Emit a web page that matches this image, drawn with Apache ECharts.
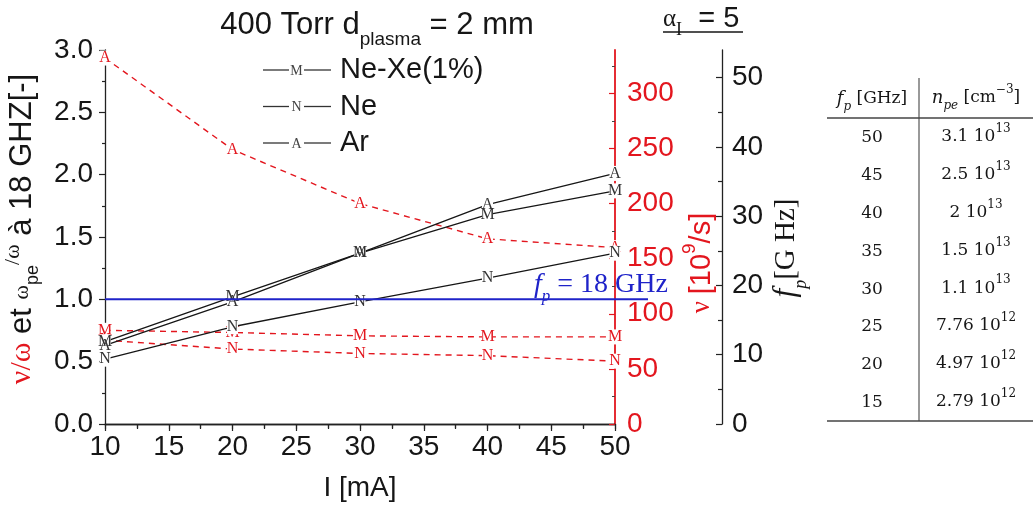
<!DOCTYPE html>
<html>
<head>
<meta charset="utf-8">
<script src="https://cdn.jsdelivr.net/npm/echarts@6/dist/echarts.min.js"></script>
<style>
html,body{margin:0;padding:0;background:#fff;}
#chart{width:1033px;height:509px;}
</style>
</head>
<body>
<div id="chart"></div>
<script>
// ---------- data ----------
const current = [10, 20, 30, 40, 50];                 // I [mA]
// omega_pe / omega at 18 GHz (left axis)
const neXeOmegaPe = [0.66, 1.02, 1.37, 1.68, 1.87];
const neOmegaPe   = [0.52, 0.78, 0.98, 1.17, 1.37];
const arOmegaPe   = [0.63, 0.98, 1.37, 1.76, 2.01];
// collision frequency nu [10^9/s] (red axis)
const neXeNu = [85, 83, 80, 79, 79];
const neNu   = [76, 68, 64, 62, 57];
const arNu   = [332, 249, 200, 168, 160];
// reference line omega_pe/omega = 1 (f_p = 18 GHz)
const refLineX = [10, 52.6];
const refLineY = 1.0;
// tick labels
const xTicks = [10, 15, 20, 25, 30, 35, 40, 45, 50];
const leftTicks = [0, 0.5, 1, 1.5, 2, 2.5, 3];
const nuTicks = [0, 50, 100, 150, 200, 250, 300];
const fpTicks = [0, 10, 20, 30, 40, 50];
// legend
const legendNames = ['Ne-Xe(1%)', 'Ne', 'Ar'];
const legendMarks = ['M', 'N', 'A'];
// table
const tableFp = [50, 45, 40, 35, 30, 25, 20, 15];
const tableNpeMant = ['3.1', '2.5', '2', '1.5', '1.1', '7.76', '4.97', '2.79'];
const tableNpeExp = [13, 13, 13, 13, 13, 12, 12, 12];

// ---------- styles ----------
const RED = '#e3161e';
const BLK = '#161616';
const BLUE = '#1f23c9';
const SANS = 'Liberation Sans, Arial, sans-serif';
const SERIF = 'Liberation Serif, Times New Roman, serif';
const TSERIF = 'DejaVu Serif, serif';

function pts(arr) { return current.map((x, i) => [x, arr[i]]); }

function mkSeries(name, data, letter, isRed) {
  return {
    name: name,
    type: 'line',
    xAxisIndex: 0,
    yAxisIndex: isRed ? 1 : 0,
    data: pts(data),
    symbol: 'rect',
    symbolSize: [11, 15],
    showSymbol: true,
    itemStyle: { color: '#fff', borderWidth: 0 },
    lineStyle: isRed ? { color: RED, width: 1.4, type: [6, 5] } : { color: BLK, width: 1.3 },
    label: {
      show: true, position: 'inside', formatter: letter,
      fontFamily: SERIF, fontSize: 16, color: isRed ? RED : '#333'
    },
    emphasis: { disabled: true },
    silent: true,
    z: isRed ? 2 : 3
  };
}

const chart = echarts.init(document.getElementById('chart'), null, { renderer: 'canvas' });

// graphic elements: titles, axis names, legend, table
const graphics = [];
function txt(x, y, text, rich, opts) {
  opts = opts || {};
  graphics.push({
    type: 'text', x: x, y: y, rotation: opts.rotation || 0, silent: true,
    style: {
      text: text, rich: rich,
      fontSize: opts.fontSize || 28, fontFamily: opts.fontFamily || SANS,
      fill: opts.fill || BLK,
      align: opts.align || 'center', verticalAlign: opts.verticalAlign || 'middle',
      textAlign: opts.align || 'center', textVerticalAlign: opts.verticalAlign || 'middle'
    }
  });
}
function line(x1, y1, x2, y2, color, w) {
  graphics.push({ type: 'line', silent: true, shape: { x1: x1, y1: y1, x2: x2, y2: y2 },
    style: { stroke: color || BLK, lineWidth: w || 1.2 } });
}

// Title
txt(377, 25, '{n|400 Torr d}{s|plasma}{n| = 2 mm}', {
  n: { fontSize: 31, fontFamily: SANS, fill: BLK, lineHeight: 48 },
  s: { fontSize: 19, fontFamily: SANS, fill: BLK, lineHeight: 20, verticalAlign: 'bottom' }
});
// alpha_I = 5
txt(663, 19, '{a|α}{s|I}{n|  = 5}', {
  a: { fontSize: 25, fontFamily: SERIF, fill: BLK, lineHeight: 40 },
  s: { fontSize: 18, fontFamily: SERIF, fill: BLK, lineHeight: 20, verticalAlign: 'bottom' },
  n: { fontSize: 29, fontFamily: SANS, fill: BLK, lineHeight: 40 }
}, { align: 'left' });
line(663, 32, 743, 32, BLK, 1.4);

// Left axis title (rotated)
txt(22, 229, '{r|ν/ω}{n| et }{w|ω}{s|pe}{u|/ω}{n| à 18 GHZ[-]}', {
  r: { fontSize: 30, fontFamily: SERIF, fill: RED, lineHeight: 40 },
  n: { fontSize: 31, fontFamily: SANS, fill: BLK, lineHeight: 40 },
  w: { fontSize: 22, fontFamily: SERIF, fill: BLK, lineHeight: 40 },
  s: { fontSize: 18, fontFamily: SANS, fill: BLK, lineHeight: 20, verticalAlign: 'bottom' },
  u: { fontSize: 22, fontFamily: SERIF, fill: BLK, lineHeight: 38, verticalAlign: 'top' }
}, { rotation: Math.PI / 2 });

// Red axis name
txt(702, 263, '{v|ν }{n|[10}{p|9}{n|/s]}', {
  v: { fontSize: 27, fontFamily: SERIF, fill: RED, lineHeight: 44 },
  n: { fontSize: 29, fontFamily: SANS, fill: RED, lineHeight: 44 },
  p: { fontSize: 19, fontFamily: SANS, fill: RED, lineHeight: 26, verticalAlign: 'top' }
}, { rotation: Math.PI / 2 });

// fp axis name
txt(786, 248, '{f|f}{p|p}{n|[G Hz]}', {
  f: { fontSize: 31, fontFamily: SERIF, fontStyle: 'italic', fill: BLK, lineHeight: 48 },
  p: { fontSize: 18, fontFamily: SERIF, fontStyle: 'italic', fill: BLK, lineHeight: 24, verticalAlign: 'bottom' },
  n: { fontSize: 29, fontFamily: SERIF, fill: BLK, lineHeight: 48 }
}, { rotation: Math.PI / 2 });

// f_p = 18 GHz label
txt(534, 285, '{f|f}{p|p}{n| = 18 GHz}', {
  f: { fontSize: 28, fontFamily: SERIF, fontStyle: 'italic', fill: BLUE, lineHeight: 40 },
  p: { fontSize: 17, fontFamily: SERIF, fontStyle: 'italic', fill: BLUE, lineHeight: 22, verticalAlign: 'bottom' },
  n: { fontSize: 28, fontFamily: SERIF, fill: BLUE, lineHeight: 40 }
}, { align: 'left' });

// Legend
legendNames.forEach((nm, i) => {
  const y = 70 + i * 36.5;
  line(263, y, 289, y, '#333', 1.3);
  line(304, y, 331, y, '#333', 1.3);
  txt(296.5, y + 1, legendMarks[i], null, { fontSize: 14, fontFamily: SERIF, fill: '#444' });
  txt(340, y, nm, null, { fontSize: 29, fontFamily: SANS, align: 'left' });
});

// Table
line(919, 78, 919, 421, '#555', 1.2);
line(827, 118, 1033, 118, '#444', 1.5);
line(827, 421, 1033, 421, '#444', 1.5);
txt(872, 99, '{i|f}{s|p}{n| [GHz]}', {
  i: { fontSize: 18, fontFamily: TSERIF, fontStyle: 'italic', fill: BLK, lineHeight: 28 },
  s: { fontSize: 12, fontFamily: TSERIF, fontStyle: 'italic', fill: BLK, lineHeight: 18, verticalAlign: 'bottom' },
  n: { fontSize: 17, fontFamily: TSERIF, fill: BLK, lineHeight: 28 }
});
txt(976, 98, '{i|n}{s|pe}{n| [cm}{u|−3}{n|]}', {
  i: { fontSize: 18, fontFamily: TSERIF, fontStyle: 'italic', fill: BLK, lineHeight: 28 },
  s: { fontSize: 12, fontFamily: TSERIF, fontStyle: 'italic', fill: BLK, lineHeight: 18, verticalAlign: 'bottom' },
  n: { fontSize: 17, fontFamily: TSERIF, fill: BLK, lineHeight: 28 },
  u: { fontSize: 12, fontFamily: TSERIF, fill: BLK, lineHeight: 16, verticalAlign: 'top' }
});
tableFp.forEach((fp, i) => {
  const y = 138 + i * 37.8;
  txt(872, y, String(fp), null, { fontSize: 17, fontFamily: TSERIF });
  txt(976, y - 1, '{n|' + tableNpeMant[i] + ' 10}{u|' + tableNpeExp[i] + '}', {
    n: { fontSize: 17, fontFamily: TSERIF, fill: BLK, lineHeight: 28 },
    u: { fontSize: 12, fontFamily: TSERIF, fill: BLK, lineHeight: 18, verticalAlign: 'top' }
  });
});

const axisFont = { fontSize: 28, fontFamily: SANS, color: BLK };

const option = {
  animation: false,
  backgroundColor: '#fff',
  textStyle: { fontFamily: SANS },
  grid: [
    { left: 105, right: 418, top: 50, bottom: 85 },
    { left: 105, right: 385, top: 50, bottom: 85 }
  ],
  xAxis: [
    {
      gridIndex: 0, type: 'value', position: 'bottom', min: xTicks[0], max: xTicks[xTicks.length - 1], interval: 5,
      axisLine: { show: true, lineStyle: { color: '#222', width: 1.3 } },
      axisTick: { show: true, length: 7, lineStyle: { color: '#222', width: 1.2 } },
      minorTick: { show: true, splitNumber: 2, length: 4, lineStyle: { color: '#222', width: 1.2 } },
      axisLabel: Object.assign({ margin: 9 }, axisFont),
      splitLine: { show: false },
      name: 'I [mA]', nameLocation: 'middle', nameGap: 50,
      nameTextStyle: { fontSize: 28, fontFamily: SANS, color: BLK }
    },
    {
      gridIndex: 0, type: 'value', position: 'top', min: 10, max: 50, interval: 2.5,
      axisLine: { show: true, lineStyle: { color: '#222', width: 1.3 } },
      axisTick: { show: true, inside: true, length: 5, lineStyle: { color: '#222', width: 1.2 } },
      axisLabel: { show: false }, splitLine: { show: false }
    },
    { gridIndex: 1, type: 'value', min: refLineX[0], max: refLineX[1], show: false }
  ],
  yAxis: [
    {
      gridIndex: 0, type: 'value', position: 'left', min: leftTicks[0], max: leftTicks[leftTicks.length - 1], interval: 0.5,
      axisLine: { show: true, lineStyle: { color: '#222', width: 1.3 } },
      axisTick: { show: true, length: 6, lineStyle: { color: '#222', width: 1.2 } },
      minorTick: { show: true, splitNumber: 2, length: 3, lineStyle: { color: '#222', width: 1.2 } },
      axisLabel: Object.assign({ margin: 12, formatter: v => v.toFixed(1) }, axisFont),
      splitLine: { show: false }
    },
    {
      gridIndex: 0, type: 'value', position: 'right', min: 0, max: 339.3, interval: 50,
      axisLine: { show: true, lineStyle: { color: RED, width: 1.8 } },
      axisTick: { show: true, inside: true, length: 6, customValues: nuTicks, lineStyle: { color: RED, width: 1.2 } },
      minorTick: { show: true, splitNumber: 2, length: 3, lineStyle: { color: '#444', width: 1 } },
      axisLabel: { customValues: nuTicks, margin: 12, fontSize: 28, fontFamily: SANS, color: RED },
      splitLine: { show: false }
    },
    {
      gridIndex: 0, type: 'value', position: 'right', offset: 107, min: 0, max: 54, interval: 10,
      axisLine: { show: true, lineStyle: { color: '#222', width: 1.3 } },
      axisTick: { show: true, inside: true, length: 6, customValues: fpTicks, lineStyle: { color: '#222', width: 1.2 } },
      minorTick: { show: true, splitNumber: 2, length: 4, lineStyle: { color: '#222', width: 1.2 } },
      axisLabel: Object.assign({ customValues: fpTicks, margin: 10 }, axisFont),
      splitLine: { show: false }
    },
    { gridIndex: 1, type: 'value', min: 0, max: 3, show: false }
  ],
  series: [
    mkSeries('Ne-Xe nu', neXeNu, 'M', true),
    mkSeries('Ne nu', neNu, 'N', true),
    mkSeries('Ar nu', arNu, 'A', true),
    mkSeries('Ne-Xe(1%)', neXeOmegaPe, 'M', false),
    mkSeries('Ne', neOmegaPe, 'N', false),
    mkSeries('Ar', arOmegaPe, 'A', false),
    {
      name: 'f_p = 18 GHz', type: 'line', xAxisIndex: 2, yAxisIndex: 3,
      data: refLineX.map(x => [x, refLineY]), symbol: 'none',
      lineStyle: { color: BLUE, width: 2 }, silent: true, z: 4
    }
  ],
  graphic: graphics
};
chart.setOption(option);
</script>
</body>
</html>
